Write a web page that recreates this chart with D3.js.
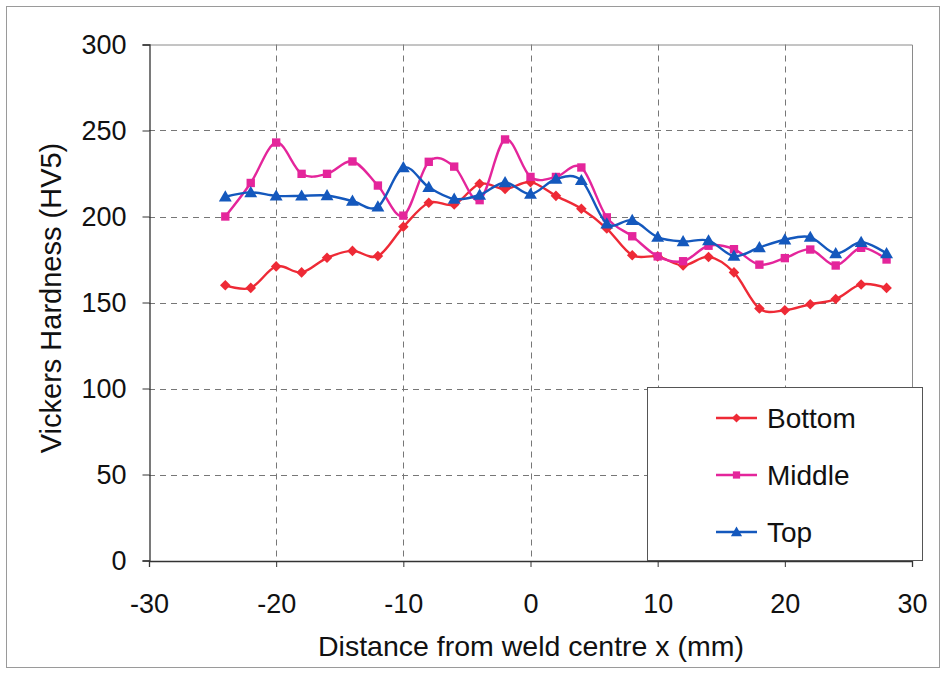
<!DOCTYPE html>
<html>
<head>
<meta charset="utf-8">
<script src="https://cdn.jsdelivr.net/npm/d3@7"></script>
<style>
  html, body { margin: 0; padding: 0; background: #fff; }
  svg { display: block; }
  text { font-family: "Liberation Sans", Arial, sans-serif; fill: #111; }
</style>
</head>
<body>
<svg id="chart" width="944" height="674"></svg>
<script>
// Distance from the weld centre (mm) at each indent
const positions = [-24, -22, -20, -18, -16, -14, -12, -10, -8, -6, -4, -2, 0, 2, 4, 6, 8, 10, 12, 14, 16, 18, 20, 22, 24, 26, 28];

// Vickers hardness (HV5) for each traverse
const bottomHV = [160, 158.5, 171, 167.5, 176, 180, 177, 194, 208, 207, 219, 216, 220, 212, 204.5, 193, 177.5, 176.8, 171.5, 176.5, 167.5, 146.5, 145.5, 149, 152, 160.5, 158.5];
const middleHV = [200, 219.5, 243, 224.8, 224.8, 232, 218, 200.5, 231.8, 229, 209.5, 244.8, 223, 223, 228.5, 199.5, 188.5, 176.8, 174, 183, 181, 172, 175.8, 180.8, 171.5, 181.8, 175];
const topHV = [211.5, 214, 212, 212, 212.2, 209, 205.7, 228.5, 217, 210.2, 212.5, 219.8, 213, 221.8, 221, 195.8, 197.8, 188, 185.5, 186, 177, 182, 186.5, 188, 178.5, 185, 178.5];

const seriesNames = ["Bottom", "Middle", "Top"];
const xTicks = [-30, -20, -10, 0, 10, 20, 30];
const yTicks = [0, 50, 100, 150, 200, 250, 300];

// diamond = square turned 45 degrees
const series = [
  { name: seriesNames[0], values: bottomHV, color: "#ee2a36", symbol: d3.symbolSquare, size: 56, rot: 45, dy: 0 },
  { name: seriesNames[1], values: middleHV, color: "#e4259b", symbol: d3.symbolSquare, size: 70, rot: 0, dy: 0 },
  { name: seriesNames[2], values: topHV,    color: "#1458bd", symbol: d3.symbolTriangle, size: 72, rot: 0, dy: 1 }
];

const svg = d3.select("#chart");
const plot = { left: 149, right: 912, top: 44.5, bottom: 560.5 };

// outer frame
svg.append("rect")
  .attr("x", 6.5).attr("y", 6.5).attr("width", 933).attr("height", 661)
  .attr("fill", "#fff").attr("stroke", "#9a9a9a").attr("stroke-width", 1);

const x = d3.scaleLinear().domain([-30, 30]).range([plot.left, plot.right]);
const y = d3.scaleLinear().domain([0, 300]).range([plot.bottom, plot.top]);

const g = svg.append("g");

// dashed grid
g.append("g").selectAll("line")
  .data(yTicks.filter(v => v > 0 && v < 300))
  .join("line")
  .attr("x1", plot.left).attr("x2", plot.right)
  .attr("y1", d => Math.round(y(d)) + 0.5).attr("y2", d => Math.round(y(d)) + 0.5)
  .attr("stroke", "#777").attr("stroke-width", 1).attr("stroke-dasharray", "6,5");

g.append("g").selectAll("line")
  .data(xTicks.filter(v => v > -30 && v < 30))
  .join("line")
  .attr("y1", plot.top).attr("y2", plot.bottom)
  .attr("x1", d => Math.round(x(d)) + 0.5).attr("x2", d => Math.round(x(d)) + 0.5)
  .attr("stroke", "#777").attr("stroke-width", 1).attr("stroke-dasharray", "6,5");

// plot frame (top and right)
g.append("path")
  .attr("d", `M${plot.left},${plot.top + 0.5}H${plot.right + 0.5}V${plot.bottom}`)
  .attr("fill", "none").attr("stroke", "#8a8a8a").attr("stroke-width", 1);

// axes
const yAxis = g.append("g")
  .attr("transform", `translate(${plot.left + 0.5},0)`)
  .call(d3.axisLeft(y).tickValues(yTicks).tickSize(7).tickPadding(16));
const xAxis = g.append("g")
  .attr("transform", `translate(0,${plot.bottom + 0.5})`)
  .call(d3.axisBottom(x).tickValues(xTicks).tickSize(6).tickPadding(27)
        .tickFormat(d => d < 0 ? "-" + Math.abs(d) : d));

[yAxis, xAxis].forEach(a => {
  a.select(".domain").attr("stroke", "#333").attr("stroke-width", 1.3);
  a.selectAll(".tick line").attr("stroke", "#333");
  a.selectAll(".tick text")
    .attr("font-size", 27)
    .attr("font-family", "'Liberation Sans', Arial, sans-serif")
    .attr("fill", "#111");
});

// series lines (smoothed) and markers
const line = d3.line()
  .x((d, i) => x(positions[i]))
  .y(d => y(d))
  .curve(d3.curveCatmullRom.alpha(0));

series.forEach(s => {
  g.append("path")
    .datum(s.values)
    .attr("fill", "none")
    .attr("stroke", s.color)
    .attr("stroke-width", 2.4)
    .attr("d", line);
  g.append("g").selectAll("path")
    .data(s.values)
    .join("path")
    .attr("transform", (d, i) => `translate(${x(positions[i])},${y(d) + s.dy}) rotate(${s.rot})`)
    .attr("d", d3.symbol().type(s.symbol).size(s.size))
    .attr("fill", s.color);
});

// legend
const lg = svg.append("g");
lg.append("rect")
  .attr("x", 647.5).attr("y", 387.5).attr("width", 275).attr("height", 173)
  .attr("fill", "#fff").attr("stroke", "#555").attr("stroke-width", 1);
const legendY = [418, 475, 532];
series.forEach((s, i) => {
  const row = lg.append("g").attr("transform", `translate(0,${legendY[i]})`);
  row.append("line").attr("x1", 716).attr("x2", 757).attr("y1", 0).attr("y2", 0)
    .attr("stroke", s.color).attr("stroke-width", 2.4);
  row.append("path")
    .attr("transform", `translate(736.5,${s.dy}) rotate(${s.rot})`)
    .attr("d", d3.symbol().type(s.symbol).size(s.size * 0.75))
    .attr("fill", s.color);
  row.append("text").attr("x", 767).attr("y", 0).attr("dy", "0.36em")
    .attr("font-size", 28).text(s.name);
});

// axis titles
svg.append("text")
  .attr("x", 531).attr("y", 656)
  .attr("text-anchor", "middle").attr("font-size", 28.5)
  .text("Distance from weld centre x (mm)");
svg.append("text")
  .attr("transform", "translate(61,298) rotate(-90)")
  .attr("text-anchor", "middle").attr("font-size", 29)
  .text("Vickers Hardness (HV5)");
</script>
</body>
</html>
